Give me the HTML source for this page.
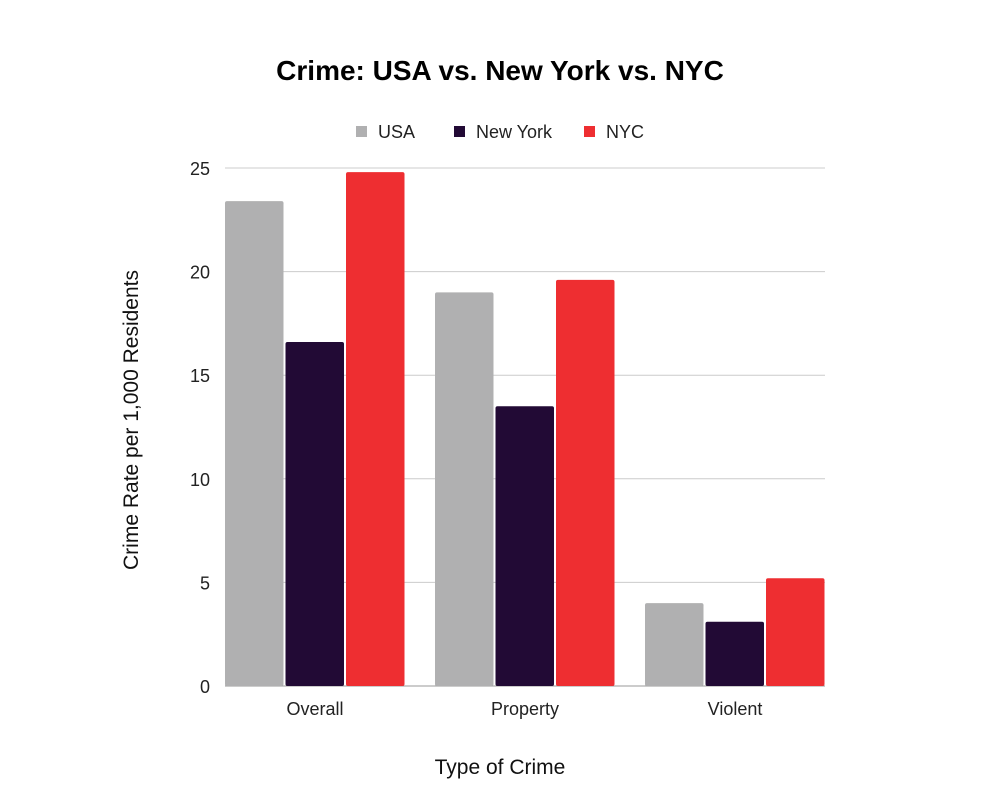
<!DOCTYPE html>
<html><head><meta charset="utf-8"><style>
body{margin:0;background:#fff;}
svg{display:block;font-family:"Liberation Sans",sans-serif;}
</style></head><body>
<svg id="chart" width="1000" height="800">
<rect width="1000" height="800" fill="#fff"/>
<text x="500" y="80" text-anchor="middle" font-size="28" font-weight="bold" fill="#000">Crime: USA vs. New York vs. NYC</text>
<g id="legend"></g>
<g id="grid"></g>
<g id="bars"></g>
<g id="xlabels"></g>
<text transform="translate(138,420) rotate(-90)" text-anchor="middle" font-size="21" fill="#111">Crime Rate per 1,000 Residents</text>
<text x="500" y="774" text-anchor="middle" font-size="21" fill="#111">Type of Crime</text>
</svg>
<script>
const categories = ["Overall","Property","Violent"];
const seriesNames = ["USA","New York","NYC"];
const usa = [23.4, 19.0, 4.0];
const newYork = [16.6, 13.5, 3.1];
const nyc = [24.8, 19.6, 5.2];
const yTicks = [0,5,10,15,20,25];

const colors = ["#b0b0b1","#220a35","#ee2e31"];
const series = [usa,newYork,nyc];
const NS = "http://www.w3.org/2000/svg";
const y0 = 686, yTop = 168, yMax = 25;
const yScale = v => y0 - v/yMax*(y0-yTop);
const xStart = 225, step = 210, barW = 58.5, barGap = 2;
const xBar = (ci,si) => xStart + ci*step + si*(barW+barGap);
function mk(tag, attrs, parent){const e=document.createElementNS(NS,tag);for(const k in attrs)e.setAttribute(k,attrs[k]);parent.appendChild(e);return e;}

const grid = document.getElementById('grid');
yTicks.forEach(t=>{
  const l = mk('line',{x1:225,x2:825,y1:yScale(t),y2:yScale(t),stroke:t===0?'#999':'#ccc','stroke-width':1},grid);
  
  
  const tx = mk('text',{x:210,y:yScale(t)+7,'text-anchor':'end','font-size':18,fill:'#222'},grid);
  tx.textContent = t;
  
  
});

const bars = document.getElementById('bars');
series.forEach((s,si)=>{
  s.forEach((v,ci)=>{
    const h = y0 - yScale(v);
    const r = mk('rect',{x:xBar(ci,si),y:yScale(v),width:barW,height:h,rx:2,fill:colors[si]},bars);
    
    
  });
});

const xl = document.getElementById('xlabels');
categories.forEach((c,ci)=>{
  const t = mk('text',{x:xStart+ci*step+90,y:715,'text-anchor':'middle','font-size':18,fill:'#222'},xl);
  t.textContent = c;
  
  
});

const lg = document.getElementById('legend');
const lx = [356,454,584];
seriesNames.forEach((n,i)=>{
  const r = mk('rect',{x:lx[i],y:126,width:11,height:11,fill:colors[i]},lg);
  
  
  const t = mk('text',{x:lx[i]+22,y:138,'font-size':18,fill:'#222'},lg);
  t.textContent = n;
  
  
});
</script>
</body></html>
